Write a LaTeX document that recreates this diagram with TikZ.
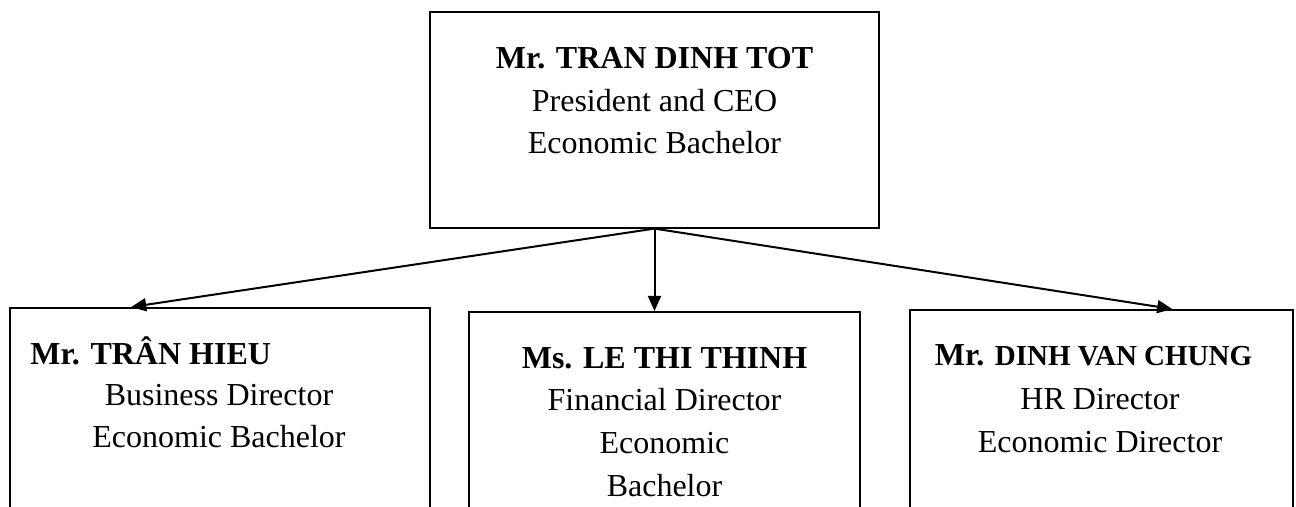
\documentclass[tikz,border=0pt]{standalone}
\usepackage{fontspec}
\setmainfont{Liberation Serif}
\usetikzlibrary{arrows.meta}
\tikzset{
	staff/.style={draw, line width=0.8pt, minimum height=130pt, anchor=north, inner sep=0pt},
	txt/.style={align=center, inner sep=0pt, anchor=base},
	link/.style={-{Triangle[length=7.5pt,width=6.5pt]}, line width=1pt}
}
\begin{document}
\begin{tikzpicture}[x=0.5pt, y=-0.5pt, font=\fontsize{16}{21.3}\selectfont]
	\clip (0,0) rectangle (1296,507);
	% boxes
	\node[staff, minimum width=224.5pt, minimum height=108pt] (ceo) at (654.5,11) {};
	\node[staff, minimum width=210pt] (biz) at (220,307) {};
	\node[staff, minimum width=195.5pt] (fin) at (664.5,311) {};
	\node[staff, minimum width=191.5pt] (hr) at (1101.5,309) {};
	% texts (anchored on the last line)
	\node[txt] (ceotxt) at (654.5,154) {\textbf{Mr. TRAN DINH TOT}\\President and CEO\\Economic Bachelor};
	\node[txt, anchor=base west] (bizname) at (30,365) {\textbf{Mr. TRÂN HIEU}};
	\node[txt] (biztxt) at (219,448) {Business Director\\Economic Bachelor};
	\node[txt] (fintxt) at (664.5,496) {\textbf{Ms. LE THI THINH}\\Financial Director\\Economic\\Bachelor};
	\node[txt] (hrname) at (1093.5,366) {\textbf{Mr. {\fontsize{14.5}{17}\selectfont DINH VAN CHUNG}}};
	\node[txt] (hrtxt) at (1100,452) {HR Director\\Economic Director};
	% arrows
	\draw[link] (ceo.south) -- ([xshift=61pt]biz.north west);
	\draw[link] (ceo.south) -- (ceo.south |- fin.north);
	\draw[link] (ceo.south) -- ([xshift=131.5pt]hr.north west);
\end{tikzpicture}
\end{document}
